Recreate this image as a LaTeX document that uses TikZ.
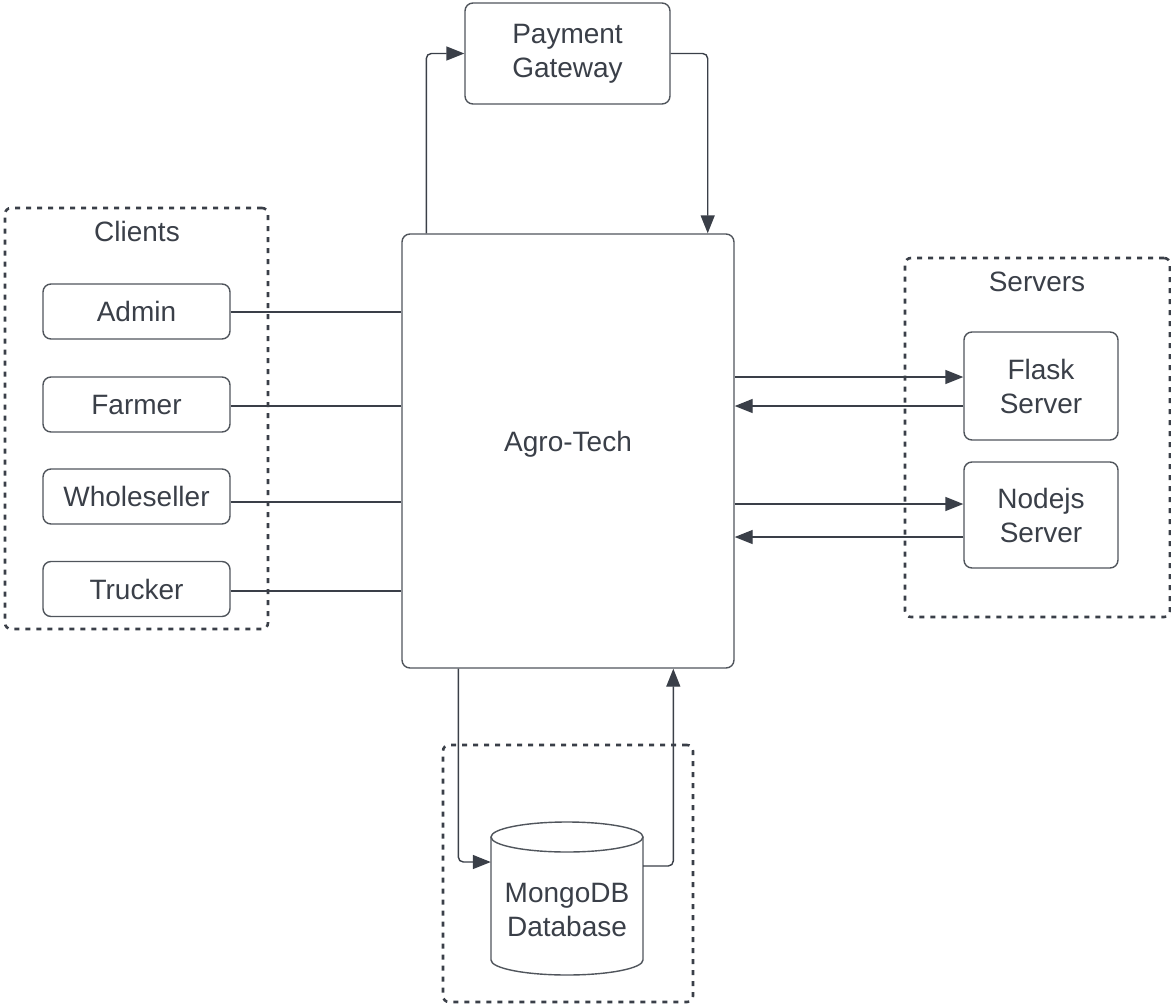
\documentclass[tikz,border=0pt]{standalone}
\usepackage{fontspec}
\setmainfont{Liberation Sans}
\usetikzlibrary{arrows.meta,calc}
\definecolor{ink}{RGB}{58,63,72}
\definecolor{boxline}{RGB}{80,85,92}
\begin{document}
\begin{tikzpicture}[x=1pt,y=-1pt,
  every node/.style={font=\fontsize{28}{34}\selectfont, text=ink, align=center},
  box/.style={draw=boxline, line width=1.4pt, rounded corners=8pt, inner sep=0pt},
  group/.style={draw=ink, line width=2.6pt, dash pattern=on 5pt off 6pt, rounded corners=6pt, inner sep=0pt},
  link/.style={draw=ink, line width=1.4pt, rounded corners=5pt},
  arr/.style={link, -{Triangle[length=18pt,width=14pt]}}]
\useasboundingbox (0,0) rectangle (1171,1007);
% groups
\node[group, minimum width=263pt, minimum height=421pt] (clients) at (136.5,418.5) {};
\node (clientslbl) at (137,231) {Clients};
\node[group, minimum width=265pt, minimum height=359pt] (servers) at (1037.5,437.5) {};
\node (serverslbl) at (1037,282) {Servers};
\node[group, minimum width=250pt, minimum height=257pt] (dbgroup) at (568,873.5) {};
% main nodes
\node[box, minimum width=205pt, minimum height=101pt] (pg) at (567.5,53.5) {Payment\\Gateway};
\node[box, minimum width=332pt, minimum height=434pt] (agro) at (568,451) {};
\node (agrolbl) at (568,444) {Agro-Tech};
\node[box, minimum width=187pt, minimum height=55pt] (admin) at (136.5,311.5) {Admin};
\node[box, minimum width=187pt, minimum height=55pt] (farmer) at (136.5,404.5) {Farmer};
\node[box, minimum width=187pt, minimum height=55pt] (whole) at (136.5,496.5) {Wholeseller};
\node[box, minimum width=187pt, minimum height=55pt] (trucker) at (136.5,589) {Trucker};
\node[box, minimum width=154pt, minimum height=108pt] (flask) at (1041,386) {Flask\\Server};
\node[box, minimum width=154pt, minimum height=106pt] (node) at (1041,515) {Nodejs\\Server};
% database cylinder
\node[minimum width=152pt, minimum height=153pt, inner sep=0pt] (db) at (567,898.5) {};
\draw[draw=boxline, line width=1.4pt] (491,837) -- (491,960)
  arc[start angle=180, end angle=360, x radius=76pt, y radius=15pt] -- (643,837);
\draw[draw=boxline, line width=1.4pt, fill=white] (567,837) ellipse [x radius=76pt, y radius=15pt];
\node (dblbl) at (567,910) {MongoDB\\Database};
% connectors
\draw[arr] ($(agro.north west)+(25,0)$) |- (pg.west);
\draw[arr] (pg.east) -| ($(agro.north east)+(-27,0)$);
\draw[link] (admin.east |- 0,312) -- (agro.west |- 0,312);
\draw[link] (farmer.east |- 0,406) -- (agro.west |- 0,406);
\draw[link] (whole.east |- 0,502) -- (agro.west |- 0,502);
\draw[link] (trucker.east |- 0,591) -- (agro.west |- 0,591);
\draw[arr] (agro.east |- 0,377) -- (flask.west |- 0,377);
\draw[arr] (flask.west |- 0,406) -- (agro.east |- 0,406);
\draw[arr] (agro.east |- 0,504) -- (node.west |- 0,504);
\draw[arr] (node.west |- 0,537) -- (agro.east |- 0,537);
\draw[arr] ($(agro.south west)+(57,0)$) |- (db.west |- 0,862);
\draw[arr] (db.east |- 0,866) -| ($(agro.south west)+(272,0)$);
\end{tikzpicture}
\end{document}
